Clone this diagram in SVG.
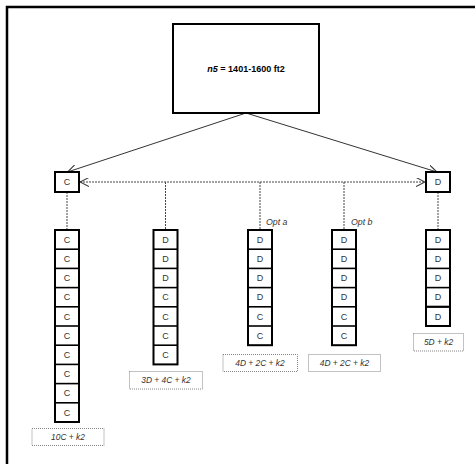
<svg xmlns="http://www.w3.org/2000/svg" width="475" height="464" viewBox="0 0 475 464">
<style>
.frame{fill:none;stroke:#000;stroke-width:2.5}
.box{fill:#fff;stroke:#000;stroke-width:2}
.cell{fill:#fff;stroke:#000;stroke-width:1.6}
.cl{font-family:"Liberation Sans",Arial,sans-serif;font-size:9px;fill:#333;text-anchor:middle}
.lbl{fill:#fff;stroke:#666;stroke-width:0.8;stroke-dasharray:1 1}
.lt{font-family:"Liberation Sans",Arial,sans-serif;font-size:8.4px;font-style:italic;fill:#333;text-anchor:middle}
.opt{font-family:"Liberation Sans",Arial,sans-serif;font-size:8.8px;font-style:italic;fill:#333}
.solid{stroke:#333;stroke-width:1;fill:none}
.dash{stroke:#444;stroke-width:1;stroke-dasharray:2 1;fill:none}
</style>
<defs>
<marker id="ah" viewBox="0 0 10 10" refX="10" refY="5" markerWidth="9" markerHeight="9" markerUnits="userSpaceOnUse" orient="auto-start-reverse">
<path d="M0,0 L10,5 L0,10" fill="none" stroke="#333" stroke-width="1.2"/>
</marker>
</defs>
<rect width="475" height="464" fill="#fff"/>
<path class="frame" d="M7,464 V7 H475"/>

<g id="connectors">
<line class="solid" x1="246" y1="113" x2="67.5" y2="172" marker-end="url(#ah)"/>
<line class="solid" x1="246" y1="113" x2="437" y2="172" marker-end="url(#ah)"/>
<line class="dash" x1="80" y1="182" x2="425" y2="182" marker-start="url(#ah)" marker-end="url(#ah)"/>
<line class="dash" x1="67" y1="192" x2="67" y2="230"/>
<line class="dash" x1="165.5" y1="182" x2="165.5" y2="230"/>
<line class="dash" x1="260" y1="182" x2="260" y2="230"/>
<line class="dash" x1="344" y1="182" x2="344" y2="230"/>
<line class="dash" x1="438" y1="192" x2="438" y2="230"/>
</g>

<g id="root">
<rect class="box" x="173" y="24" width="146" height="89"/>
<text x="246" y="72" font-family="'Liberation Sans',Arial,sans-serif" font-size="9px" font-weight="bold" fill="#000" text-anchor="middle"><tspan font-style="italic">n5</tspan> = 1401-1600 ft2</text>
</g>

<g id="nodeC">
<rect class="box" x="55" y="172" width="24" height="20"/>
<text class="cl" x="67" y="185.2">C</text>
</g>
<g id="nodeD">
<rect class="box" x="426" y="172" width="24" height="20"/>
<text class="cl" x="438" y="185.2">D</text>
</g>

<g id="col1">
<rect class="box" x="55" y="230" width="24" height="192"/>
<g class="cell">
<line x1="55" y1="249.2" x2="79" y2="249.2"/><line x1="55" y1="268.4" x2="79" y2="268.4"/><line x1="55" y1="287.6" x2="79" y2="287.6"/><line x1="55" y1="306.8" x2="79" y2="306.8"/><line x1="55" y1="326" x2="79" y2="326"/><line x1="55" y1="345.2" x2="79" y2="345.2"/><line x1="55" y1="364.4" x2="79" y2="364.4"/><line x1="55" y1="383.6" x2="79" y2="383.6"/><line x1="55" y1="402.8" x2="79" y2="402.8"/>
</g>
<text class="cl" x="67" y="242.8">C</text><text class="cl" x="67" y="262">C</text><text class="cl" x="67" y="281.2">C</text><text class="cl" x="67" y="300.4">C</text><text class="cl" x="67" y="319.6">C</text><text class="cl" x="67" y="338.8">C</text><text class="cl" x="67" y="358">C</text><text class="cl" x="67" y="377.2">C</text><text class="cl" x="67" y="396.4">C</text><text class="cl" x="67" y="415.6">C</text>
</g>

<g id="col2">
<rect class="box" x="153.5" y="230" width="24" height="134.4"/>
<g class="cell">
<line x1="153.5" y1="249.2" x2="177.5" y2="249.2"/><line x1="153.5" y1="268.4" x2="177.5" y2="268.4"/><line x1="153.5" y1="287.6" x2="177.5" y2="287.6"/><line x1="153.5" y1="306.8" x2="177.5" y2="306.8"/><line x1="153.5" y1="326" x2="177.5" y2="326"/><line x1="153.5" y1="345.2" x2="177.5" y2="345.2"/>
</g>
<text class="cl" x="165.5" y="242.8">D</text><text class="cl" x="165.5" y="262">D</text><text class="cl" x="165.5" y="281.2">D</text><text class="cl" x="165.5" y="300.4">C</text><text class="cl" x="165.5" y="319.6">C</text><text class="cl" x="165.5" y="338.8">C</text><text class="cl" x="165.5" y="358">C</text>
</g>

<g id="col3">
<rect class="box" x="248" y="230" width="24" height="115.2"/>
<g class="cell">
<line x1="248" y1="249.2" x2="272" y2="249.2"/><line x1="248" y1="268.4" x2="272" y2="268.4"/><line x1="248" y1="287.6" x2="272" y2="287.6"/><line x1="248" y1="306.8" x2="272" y2="306.8"/><line x1="248" y1="326" x2="272" y2="326"/>
</g>
<text class="cl" x="260" y="242.8">D</text><text class="cl" x="260" y="262">D</text><text class="cl" x="260" y="281.2">D</text><text class="cl" x="260" y="300.4">D</text><text class="cl" x="260" y="319.6">C</text><text class="cl" x="260" y="338.8">C</text>
<text class="opt" x="266" y="225">Opt a</text>
</g>

<g id="col4">
<rect class="box" x="332" y="230" width="24" height="115.2"/>
<g class="cell">
<line x1="332" y1="249.2" x2="356" y2="249.2"/><line x1="332" y1="268.4" x2="356" y2="268.4"/><line x1="332" y1="287.6" x2="356" y2="287.6"/><line x1="332" y1="306.8" x2="356" y2="306.8"/><line x1="332" y1="326" x2="356" y2="326"/>
</g>
<text class="cl" x="344" y="242.8">D</text><text class="cl" x="344" y="262">D</text><text class="cl" x="344" y="281.2">D</text><text class="cl" x="344" y="300.4">D</text><text class="cl" x="344" y="319.6">C</text><text class="cl" x="344" y="338.8">C</text>
<text class="opt" x="351" y="225">Opt b</text>
</g>

<g id="col5">
<rect class="box" x="426" y="230" width="24" height="96"/>
<g class="cell">
<line x1="426" y1="249.2" x2="450" y2="249.2"/><line x1="426" y1="268.4" x2="450" y2="268.4"/><line x1="426" y1="287.6" x2="450" y2="287.6"/><line x1="426" y1="306.8" x2="450" y2="306.8" stroke-width="2.2"/>
</g>
<text class="cl" x="438" y="242.8">D</text><text class="cl" x="438" y="262">D</text><text class="cl" x="438" y="281.2">D</text><text class="cl" x="438" y="300.4">D</text><text class="cl" x="438" y="319.6">D</text>
</g>

<g id="label1"><rect class="lbl" x="32" y="428.5" width="72" height="17"/><text class="lt" x="68" y="440">10C + k2</text></g>
<g id="label2"><rect class="lbl" x="129.5" y="371.5" width="73" height="17.5"/><text class="lt" x="166" y="383">3D + 4C + k2</text></g>
<g id="label3"><rect class="lbl" x="223" y="354.5" width="74.5" height="17"/><text class="lt" x="260" y="366">4D + 2C + k2</text></g>
<g id="label4"><rect class="lbl" x="308.5" y="354.5" width="72" height="17"/><text class="lt" x="344.5" y="366">4D + 2C + k2</text></g>
<g id="label5"><rect class="lbl" x="413.5" y="333.5" width="50" height="17.5"/><text class="lt" x="438.5" y="345">5D + k2</text></g>
</svg>
